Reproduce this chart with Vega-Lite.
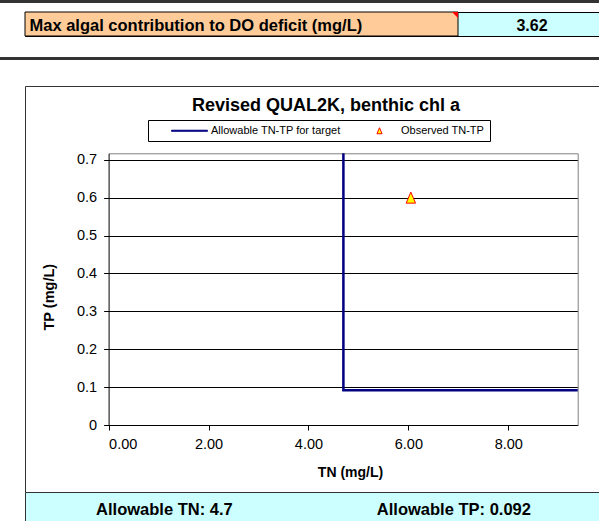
{
  "$schema": "https://vega.github.io/schema/vega-lite/v6.json",
  "padding": 0,
  "background": "white",
  "config": {
    "font": "Liberation Sans",
    "view": {"stroke": null}
  },
  "columns": 2,
  "align": "none",
  "bounds": "flush",
  "spacing": 0,
  "concat": [
    {"width": 25, "height": 3, "view": {"fill": "#333333"}, "data": {"values": []}, "mark": "point"},
    {"width": 574, "height": 3, "view": {"fill": "#333333"}, "data": {"values": []}, "mark": "point"},

    {"width": 25, "height": 9, "data": {"values": []}, "mark": "point"},
    {"width": 574, "height": 9, "data": {"values": []}, "mark": "point"},

    {"width": 25, "height": 24, "data": {"values": []}, "mark": "point"},
    {
      "width": 574, "height": 24,
      "view": {"fill": "#CCFFFF", "stroke": "#000000", "strokeWidth": 1},
      "resolve": {"scale": {"x": "independent", "y": "independent"}},
      "layer": [
        {
          "data": {"values": [{"cell": "label"}]},
          "mark": {"type": "rect", "fill": "#FFCC99", "stroke": "#000000", "strokeWidth": 1},
          "encoding": {
            "x": {"field": "cell", "type": "nominal", "axis": null, "scale": {"type": "band", "range": [0, 433], "padding": 0}}
          }
        },
        {
          "data": {"values": [{"cell": "note"}]},
          "mark": {"type": "point", "shape": "M-1,-1L1,-1L1,1Z", "size": 36, "filled": true, "fill": "#FF0000", "strokeWidth": 0, "opacity": 1},
          "encoding": {
            "x": {"field": "cell", "type": "nominal", "axis": null, "scale": {"type": "point", "range": [430, 430]}},
            "y": {"field": "cell", "type": "nominal", "axis": null, "scale": {"type": "point", "range": [3, 3]}}
          }
        },
        {
          "data": {"values": [{"cell": "label", "text": "Max algal contribution to DO deficit (mg/L)"}]},
          "mark": {"type": "text", "align": "left", "baseline": "alphabetic", "dy": 6.5, "fontSize": 16.5, "fontWeight": "bold", "color": "#000000"},
          "encoding": {
            "x": {"field": "cell", "type": "nominal", "axis": null, "scale": {"type": "point", "range": [4.5, 4.5]}},
            "text": {"field": "text"}
          }
        },
        {
          "data": {"values": [{"cell": "value", "text": "3.62"}]},
          "mark": {"type": "text", "align": "center", "baseline": "alphabetic", "dy": 6.5, "fontSize": 16, "fontWeight": "bold", "color": "#000000"},
          "encoding": {
            "x": {"field": "cell", "type": "nominal", "axis": null, "scale": {"type": "point", "range": [507, 507]}},
            "text": {"field": "text"}
          }
        }
      ]
    },

    {"width": 25, "height": 21, "data": {"values": []}, "mark": "point"},
    {"width": 574, "height": 21, "data": {"values": []}, "mark": "point"},

    {"width": 25, "height": 3, "view": {"fill": "#333333"}, "data": {"values": []}, "mark": "point"},
    {"width": 574, "height": 3, "view": {"fill": "#333333"}, "data": {"values": []}, "mark": "point"},

    {"width": 25, "height": 26, "data": {"values": []}, "mark": "point"},
    {"width": 574, "height": 26, "data": {"values": []}, "mark": "point"},

    {"width": 25, "height": 406, "data": {"values": []}, "mark": "point"},
    {
      "width": 574, "height": 406,
      "view": {"fill": "white", "stroke": "#333333", "strokeWidth": 1},
      "title": {"text": "Revised QUAL2K, benthic chl a", "fontSize": 18, "fontWeight": "bold", "font": "Liberation Sans", "color": "#000000", "anchor": "middle", "frame": "group", "baseline": "alphabetic", "offset": -42.7, "dx": 14},
      "resolve": {"axis": {"x": "independent", "y": "independent"}},
      "layer": [
        {
          "data": {"values": [
            {"series": "Allowable TN-TP for target", "i": 1, "TN": 4.7, "TP": 0.717},
            {"series": "Allowable TN-TP for target", "i": 2, "TN": 4.7, "TP": 0.092},
            {"series": "Allowable TN-TP for target", "i": 3, "TN": 9.39, "TP": 0.092}
          ]},
          "mark": {"type": "line", "strokeWidth": 2.5, "strokeCap": "butt"},
          "encoding": {
            "x": {"field": "TN", "type": "quantitative",
              "scale": {"domain": [0, 9.39], "range": [83.6, 552.7], "nice": false, "zero": false},
              "axis": {"orient": "bottom", "offset": -67, "values": [0, 2, 4, 6, 8], "format": ".2f", "title": "TN (mg/L)", "grid": false,
                "tickSize": 5, "tickColor": "#000000", "domainColor": "#000000", "labelPadding": 7, "labelFontSize": 14.5, "labelColor": "#000000", "labelFont": "Liberation Sans",
                "titleFont": "Liberation Sans", "titleFontSize": 14, "titleFontWeight": "bold", "titleColor": "#000000", "titlePadding": 15, "titleX": 325}},
            "y": {"field": "TP", "type": "quantitative",
              "scale": {"domain": [0, 0.717], "range": [339, 67.3], "nice": false, "zero": false},
              "axis": {"orient": "left", "offset": -83.6, "values": [0, 0.1, 0.2, 0.3, 0.4, 0.5, 0.6, 0.7], "format": ".1~f", "title": "TP (mg/L)",
                "grid": true, "gridColor": "#000000", "gridWidth": 1, "gridOpacity": 1,
                "tickSize": 5, "tickColor": "#000000", "domainColor": "#000000", "labelPadding": 7, "labelFontSize": 14.5, "labelColor": "#000000", "labelFont": "Liberation Sans",
                "titleFont": "Liberation Sans", "titleFontSize": 14.5, "titleFontWeight": "bold", "titleColor": "#000000", "titlePadding": 20, "titleY": 210.7}},
            "stroke": {"field": "series", "type": "nominal",
              "scale": {"domain": ["Allowable TN-TP for target", "Observed TN-TP"], "range": ["#000080", "#FF0000"]},
              "legend": {"title": null, "orient": "none", "legendX": 148, "legendY": 120, "direction": "horizontal", "columns": 2,
                "strokeColor": "#000000", "fillColor": "white", "padding": 5, "symbolOffset": 31, "labelOffset": 16, "columnPadding": 2,
                "labelFontSize": 11, "labelFont": "Liberation Sans", "labelColor": "#000000", "symbolSize": 36, "symbolStrokeWidth": 1}},
            "order": {"field": "i"}
          }
        },
        {
          "data": {"values": [{"series": "Observed TN-TP", "TN": 6.05, "TP": 0.6}]},
          "mark": {"type": "point", "size": 121, "strokeWidth": 1, "opacity": 1},
          "encoding": {
            "x": {"field": "TN", "type": "quantitative",
              "axis": {"orient": "top", "offset": -67.3, "values": [], "labels": false, "ticks": false, "grid": false, "title": null, "domainColor": "#808080", "domainWidth": 1}},
            "y": {"field": "TP", "type": "quantitative",
              "axis": {"orient": "right", "offset": -21.3, "values": [], "labels": false, "ticks": false, "grid": false, "title": null, "domainColor": "#808080", "domainWidth": 1}},
            "shape": {"field": "series", "type": "nominal",
              "scale": {"domain": ["Allowable TN-TP for target", "Observed TN-TP"], "range": ["M-6,-0.17H6V0.17H-6Z", "M0,-1L0.85,1L-0.85,1Z"]},
              "legend": {"title": null, "orient": "none", "legendX": 148, "legendY": 120, "direction": "horizontal", "columns": 2,
                "strokeColor": "#000000", "fillColor": "white", "padding": 5, "symbolOffset": 31, "labelOffset": 16, "columnPadding": 2,
                "labelFontSize": 11, "labelFont": "Liberation Sans", "labelColor": "#000000", "symbolSize": 36, "symbolStrokeWidth": 1}},
            "fill": {"field": "series", "type": "nominal",
              "scale": {"domain": ["Allowable TN-TP for target", "Observed TN-TP"], "range": ["#000080", "#FFFF00"]},
              "legend": {"title": null, "orient": "none", "legendX": 148, "legendY": 120, "direction": "horizontal", "columns": 2,
                "strokeColor": "#000000", "fillColor": "white", "padding": 5, "symbolOffset": 31, "labelOffset": 16, "columnPadding": 2,
                "labelFontSize": 11, "labelFont": "Liberation Sans", "labelColor": "#000000", "symbolSize": 36, "symbolStrokeWidth": 1}},
            "stroke": {"field": "series", "type": "nominal"}
          }
        }
      ]
    },

    {"width": 25, "height": 29, "data": {"values": []}, "mark": "point"},
    {
      "width": 574, "height": 29,
      "view": {"fill": "#CCFFFF", "stroke": "#333333", "strokeWidth": 1},
      "data": {"values": [{"k": "TN", "t": "Allowable TN: 4.7"}, {"k": "TP", "t": "Allowable TP: 0.092"}]},
      "mark": {"type": "text", "align": "center", "baseline": "alphabetic", "dy": 8.6, "fontSize": 16.5, "fontWeight": "bold", "color": "#000000"},
      "encoding": {
        "x": {"field": "k", "type": "nominal", "axis": null, "scale": {"type": "point", "range": [139.4, 428.9], "padding": 0}},
        "text": {"field": "t"}
      }
    }
  ]
}
